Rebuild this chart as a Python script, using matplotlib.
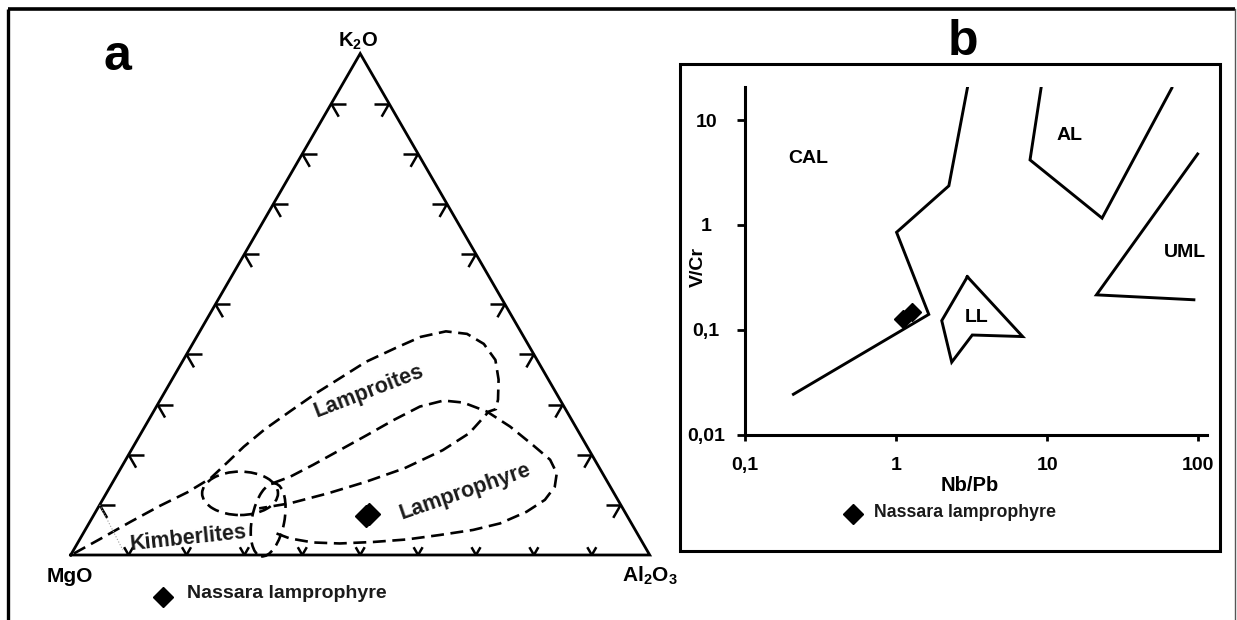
import numpy as np
import matplotlib.pyplot as plt
from matplotlib.patches import Ellipse, Rectangle

plt.rcParams['font.family'] = ['Liberation Sans', 'DejaVu Sans']
plt.rcParams['font.weight'] = 'bold'
plt.rcParams['mathtext.fontset'] = 'custom'
plt.rcParams['mathtext.rm'] = 'Liberation Sans:bold'
plt.rcParams['mathtext.it'] = 'Liberation Sans:bold'
plt.rcParams['mathtext.bf'] = 'Liberation Sans:bold'

W, H = 1237, 620

# ---- (a) MgO - Al2O3 - K2O ternary, compositions in % (MgO = rest)
lamproite_al = [0.4, 3.6, 7.0, 10.5, 13.9, 16.5, 17.8, 19.1, 21.0, 23.6,
                26.2, 29.0, 31.7, 35.5, 38.7, 42.5, 46.4, 50.3, 53.9, 56.4,
                58.3, 58.9, 57.9, 56.7, 53.8, 49.0, 43.7, 38.3, 32.7, 27.9]
lamproite_k = [0.3, 3.3, 6.6, 9.8, 12.5, 15.3, 18.4, 21.6, 25.1, 28.7,
               32.2, 35.4, 38.5, 41.3, 43.5, 44.6, 44.1, 42.1, 38.9, 35.0,
               31.0, 29.1, 28.6, 24.3, 20.9, 17.3, 14.6, 12.3, 10.3, 9.3]
lamprophyre_al = [27.7, 30.1, 32.9, 36.0, 39.2, 42.3, 45.5, 49.0, 52.6, 57.6,
                  63.1, 68.9, 73.3, 75.8, 76.8, 76.4, 74.4, 71.0, 67.0, 61.8,
                  56.5, 51.0, 45.3, 40.6, 36.2, 33.1]
lamprophyre_k = [14.3, 15.6, 18.0, 20.9, 23.9, 26.9, 29.6, 30.8, 30.4, 28.6,
                 25.6, 21.9, 19.0, 16.3, 13.6, 11.0, 8.6, 6.3, 5.0, 4.0,
                 3.1, 2.6, 2.3, 2.5, 3.3, 4.4]
# kimberlite fields: centre (Al2O3, K2O), width, height (triangle units), angle
kimb_centres = [(23.1, 12.3), (30.6, 7.0)]
kimb_sizes = [(0.131, 0.075, 0), (0.056, 0.128, -11)]
guide_al = [0.0, 8.5]
guide_k = [10.0, 1.0]

sample_al = [47.1, 47.5]
sample_k = [7.8, 8.2]
tick_pct = [10, 20, 30, 40, 50, 60, 70, 80, 90]

# ---- (b) V/Cr vs Nb/Pb
cal_nbpb = [0.21, 1.65, 1.01, 2.24, 2.97]
cal_vcr = [0.0242, 0.14, 0.85, 2.36, 20.2]
al_nbpb = [9.12, 7.71, 23.1, 66.8]
al_vcr = [20.2, 4.17, 1.16, 20.2]
uml_nbpb = [99, 21.2, 93.5]
uml_vcr = [4.75, 0.215, 0.193]
ll_nbpb = [2.97, 6.89, 3.2, 2.34, 2.01, 2.97]
ll_vcr = [0.32, 0.086, 0.089, 0.049, 0.122, 0.32]
sample_nbpb = [1.12, 1.27]
sample_vcr = [0.127, 0.149]


def to_xy(al, k):
    al = np.asarray(al, dtype=float) / 100
    k = np.asarray(k, dtype=float) / 100
    return al + k / 2, k * np.sqrt(3) / 2


fig = plt.figure(figsize=(W / 100, H / 100), dpi=100)

# ternary axes: one triangle unit = 579 px, MgO corner at (70.7, 555) px
s = 579.0
ax = fig.add_axes([0, 0, 1, 1])
ax.set_xlim(-70.7 / s, (W - 70.7) / s)
ax.set_ylim(-(H - 555) / s, 555 / s)
ax.axis('off')

tri_x, tri_y = to_xy([0, 100, 0, 0], [0, 0, 100, 0])
ax.plot(tri_x, tri_y, color='black', lw=2.0, solid_joinstyle='miter')

lb, ls = 9 / s, 15 / s
for t in tick_pct:
    # base ticks open upwards, side ticks point into the triangle
    for (px, py), angs, L in [(to_xy(t, 0), (60, 120), lb),
                              (to_xy(0, t), (0, -60), ls),
                              (to_xy(100 - t, t), (180, 240), ls)]:
        for a in angs:
            r = np.radians(a)
            ax.plot([px, px + L * np.cos(r)], [py, py + L * np.sin(r)],
                    color='black', lw=1.8, solid_capstyle='butt')

dash = (0, (4.9, 2.5))
x, y = to_xy(lamproite_al, lamproite_k)
ax.plot(x, y, color='black', lw=1.9, linestyle=dash)
x, y = to_xy(lamprophyre_al, lamprophyre_k)
ax.plot(x, y, color='black', lw=1.9, linestyle=dash)
for (cal_, ck), (w, h, ang) in zip(kimb_centres, kimb_sizes):
    cx, cy = to_xy(cal_, ck)
    ax.add_patch(Ellipse((cx, cy), w, h, angle=ang, fill=False,
                         ec='black', lw=1.9, linestyle=dash))
x, y = to_xy(guide_al, guide_k)
ax.plot(x, y, color='#9a9a9a', lw=0.8, linestyle=':')

x, y = to_xy(sample_al, sample_k)
ax.plot(x, y, 'D', color='black', ms=11, ls='none')

# ---- panel b axes
bx = fig.add_axes([744.7 / W, (H - 434.5) / H, 462 / W, 347.5 / H])
bx.set_xscale('log')
bx.set_yscale('log')
bx.set_xlim(0.1, 10 ** (-1 + 462 / 151.2))
bx.set_ylim(0.01, 10 ** (-2 + 347.5 / 104.8))
bx.set_xticks([0.1, 1, 10, 100], ['0,1', '1', '10', '100'])
bx.set_yticks([0.01, 0.1, 1, 10], ['0,01', '0,1', '1', '10'])
bx.minorticks_off()
bx.patch.set_alpha(0)
for side in ['top', 'right']:
    bx.spines[side].set_visible(False)
for side in ['left', 'bottom']:
    bx.spines[side].set_linewidth(2.2)
bx.tick_params(axis='x', length=4.3, width=2.0, pad=12, labelsize=14)
bx.tick_params(axis='y', length=5.8, width=2.0, pad=22, labelsize=14)
for lab in bx.get_yticklabels():
    lab.set_ha('center')

for xs, ys in [(cal_nbpb, cal_vcr), (al_nbpb, al_vcr),
               (uml_nbpb, uml_vcr), (ll_nbpb, ll_vcr)]:
    bx.plot(xs, ys, color='black', lw=2.1, solid_joinstyle='miter')
bx.plot(sample_nbpb, sample_vcr, 'D', color='black', ms=9.5, ls='none')

# ---- frame, labels, legends in pixel coordinates
pix = fig.add_axes([0, 0, 1, 1])
pix.set_xlim(0, W)
pix.set_ylim(H, 0)
pix.axis('off')
pix.patch.set_alpha(0)

pix.plot([8, 1235], [9, 9], color='black', lw=2.6, solid_capstyle='butt')
pix.plot([8, 8], [9, H], color='black', lw=2.4, solid_capstyle='butt')
pix.plot([1235, 1235], [9, H], color='#555555', lw=1.0)
pix.add_patch(Rectangle((680, 64), 539.5, 487, fill=False, ec='black', lw=2.2))

pix.text(117.5, 70, 'a', fontsize=36, ha='center', va='baseline')
pix.text(962.8, 55, 'b', fontsize=36, ha='center', va='baseline')

pix.text(358, 47, 'K$_2$O', fontsize=14.5, ha='center', va='baseline')
pix.text(70, 581.5, 'MgO', fontsize=15, ha='center', va='baseline')
pix.text(650, 581.5, 'Al$_2$O$_3$', fontsize=15, ha='center', va='baseline')

lab_col = '#1a1a1a'
pix.text(369, 391.5, 'Lamproites', fontsize=15.5, rotation=21, color=lab_col,
         ha='center', va='center', rotation_mode='anchor')
pix.text(465, 491.7, 'Lamprophyre', fontsize=15.5, rotation=19, color=lab_col,
         ha='center', va='center', rotation_mode='anchor')
pix.text(188, 538, 'Kimberlites', fontsize=15.5, rotation=6, color=lab_col,
         ha='center', va='center', rotation_mode='anchor')

pix.plot([163], [597], 'D', color='black', ms=10)
pix.text(187, 597.7, 'Nassara lamprophyre', fontsize=14, color=lab_col,
         ha='left', va='baseline')
pix.plot([853], [514], 'D', color='black', ms=10)
pix.text(873.5, 517, 'Nassara lamprophyre', fontsize=12.8, color=lab_col,
         ha='left', va='baseline')

pix.text(969.3, 490.7, 'Nb/Pb', fontsize=14.5, ha='center', va='baseline')
pix.text(698.3, 266.7, 'V/Cr', fontsize=14, rotation=90, ha='center', va='center')

for txt, xx, yy in [('CAL', 808.3, 163.3), ('AL', 1070, 139.5),
                    ('UML', 1184.5, 257), ('LL', 976.5, 321.5)]:
    pix.text(xx, yy, txt, fontsize=14, ha='center', va='baseline')

fig.savefig('out.png', dpi=100, facecolor='white')
